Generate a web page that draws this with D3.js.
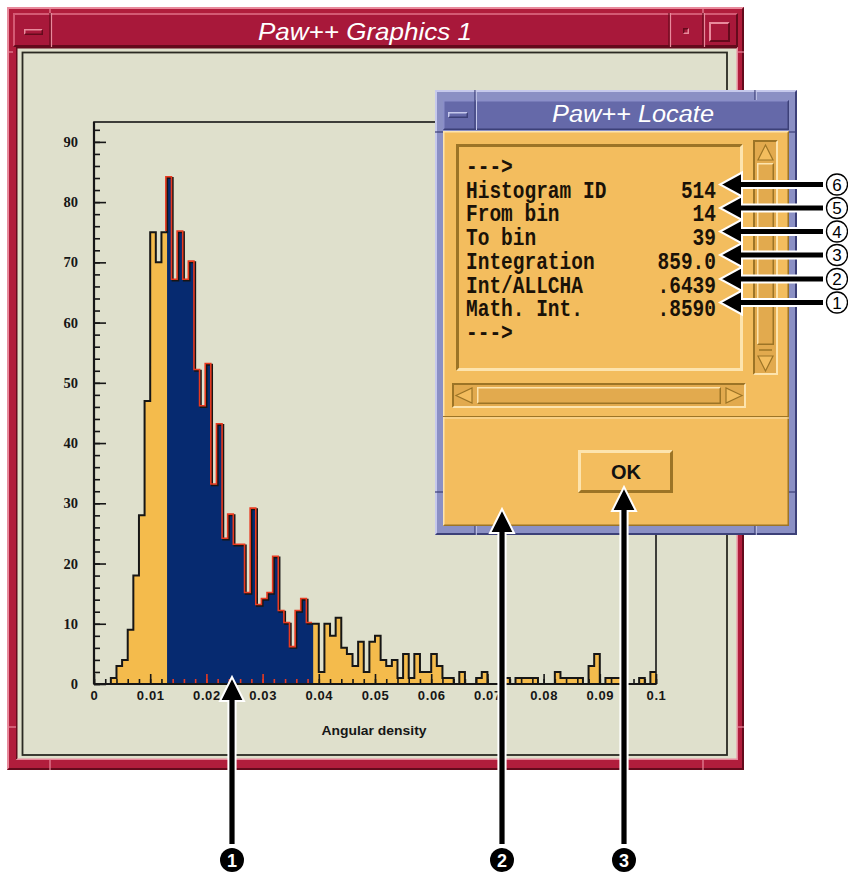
<!DOCTYPE html>
<html><head><meta charset="utf-8">
<script src="https://cdn.jsdelivr.net/npm/d3@7/dist/d3.min.js"></script>
<style>body{margin:0;background:#fff}svg{display:block}</style>
</head><body>
<svg id="c" width="848" height="873"></svg>
<script>
// ---------------- data ----------------
const counts = [
  0, 0, 0, 1, 3, 4, 9, 18, 28, 47,
  75, 70, 75, 84, 67, 75, 67, 70, 52, 46,
  53, 33, 43, 24, 28, 23, 23, 15, 29, 13,
  14, 15, 21, 12, 10, 6, 12, 14, 10, 10,
  2, 10, 8, 11, 6, 5, 3, 7, 2, 7,
  8, 4, 3, 4, 1, 5, 1, 5, 2, 2,
  5, 3, 1, 1, 0, 2, 0, 0, 1, 2,
  0, 0, 0, 1, 0, 1, 1, 1, 1, 0,
  0, 0, 2, 1, 1, 1, 1, 0, 3, 5,
  0, 1, 1, 1, 0, 0, 0, 1, 0, 2
];
const xMin = 0, xMax = 0.1, binWidth = 0.001;
const yTop = 93.3;
const selFromBin = 14, selToBin = 39;
const xMajorTicks = [0, 0.01, 0.02, 0.03, 0.04, 0.05, 0.06, 0.07, 0.08, 0.09, 0.1];
const xTickLabels = ["0", "0.01", "0.02", "0.03", "0.04", "0.05", "0.06", "0.07", "0.08", "0.09", "0.1"];
const xMinorTicks = d3.range(0, 51).map(i => i * 0.002);
const yMajorTicks = [0, 10, 20, 30, 40, 50, 60, 70, 80, 90];
const yMinorTicks = d3.range(0, 47).map(i => i * 2);
const xTitle = "Angular density";
const windowTitle = "Paw++ Graphics 1";
const dialogTitle = "Paw++ Locate";
const locatePrompt = "--->";
const locateNames = ["Histogram ID", "From bin", "To bin", "Integration", "Int/ALLCHA", "Math. Int."];
const locateValues = ["514", "14", "39", "859.0", ".6439", ".8590"];
const rightCallouts = ["6", "5", "4", "3", "2", "1"];
const bottomCallouts = ["1", "2", "3"];
const okLabel = "OK";

// ---------------- colours ----------------
const C = {
  canvas: "#dfe0cc", yellow: "#f4bb4c", navy: "#062a70", red: "#e83a20", ink: "#161616",
  wFrame: "#b11d3c", wTitle: "#a8183a", wLight: "#e88a9c", wDark: "#640a1c",
  dFrame: "#8b90c4", dTitle: "#6569a9", dLight: "#c6c9ec", dDark: "#3c4078",
  oBody: "#f3bd5e", oLight: "#fde4ae", oDark: "#9c7426", oTrough: "#e2aa4e"
};

const svg = d3.select("#c");

function bevel(g, x, y, w, h, tl, br, t) {
  g.append("path").attr("d", `M${x},${y}H${x+w}L${x+w-t},${y+t}H${x+t}V${y+h-t}L${x},${y+h}Z`).attr("fill", tl);
  g.append("path").attr("d", `M${x+w},${y}V${y+h}H${x}L${x+t},${y+h-t}H${x+w-t}V${y+t}Z`).attr("fill", br);
}
function vline(g, x, y1, y2, col, w) {
  g.append("line").attr("x1", x).attr("x2", x).attr("y1", y1).attr("y2", y2).attr("stroke", col).attr("stroke-width", w || 1);
}
function hline(g, y, x1, x2, col, w) {
  g.append("line").attr("x1", x1).attr("x2", x2).attr("y1", y).attr("y2", y).attr("stroke", col).attr("stroke-width", w || 1);
}

// ---------------- graphics window ----------------
const win = svg.append("g");
win.append("rect").attr("x", 7).attr("y", 7).attr("width", 737).attr("height", 763).attr("fill", C.wFrame);
bevel(win, 7, 7, 737, 763, C.wLight, C.wDark, 2);
win.append("rect").attr("x", 13).attr("y", 13).attr("width", 725).attr("height", 34).attr("fill", C.wTitle);
bevel(win, 13, 13, 725, 34, "#d45a74", C.wDark, 2);
[50, 669, 703].forEach(px => { vline(win, px, 13, 47, C.wDark, 1.2); vline(win, px + 1.5, 13, 47, C.wLight, 1.2); });
[50, 703].forEach(px => { vline(win, px, 7, 13, C.wLight, 1.2); vline(win, px, 760, 770, C.wLight, 1.2); });
hline(win, 52, 7, 13, C.wLight, 1.2); hline(win, 727, 7, 16, C.wLight, 1.2);
hline(win, 52, 738, 744, C.wLight, 1.2); hline(win, 727, 737, 744, C.wLight, 1.2);
bevel(win, 24, 29, 19, 6, C.wLight, C.wDark, 1.5);
bevel(win, 683, 28, 6, 6, C.wDark, C.wLight, 1.5);
bevel(win, 709, 22, 21, 20, C.wLight, C.wDark, 2);
win.append("text").attr("x", 365).attr("y", 40).attr("text-anchor", "middle")
  .attr("font-family", "Liberation Sans, Arial, sans-serif").attr("font-style", "italic")
  .attr("font-size", 24).attr("fill", "#fff").attr("textLength", 214).attr("lengthAdjust", "spacingAndGlyphs")
  .text(windowTitle);
win.append("rect").attr("x", 16).attr("y", 47).attr("width", 722).attr("height", 713).attr("fill", C.canvas);
bevel(win, 16, 47, 722, 713, C.wDark, C.wLight, 1.5);
win.append("rect").attr("x", 22.5).attr("y", 52.5).attr("width", 704.5).attr("height", 702.5)
  .attr("fill", C.canvas).attr("stroke", "#2a2a22").attr("stroke-width", 1.8);

// ---------------- histogram ----------------
const plot = svg.append("g");
const x = d3.scaleLinear().domain([xMin, xMax]).range([94, 656]);
const y = d3.scaleLinear().domain([0, yTop]).range([684, 122]);

const bins = counts.map((v, i) => ({ x0: xMin + i * binWidth, x1: xMin + (i + 1) * binWidth, v }));
const toPts = arr => arr.map(b => ({ x: b.x0, v: b.v })).concat([{ x: arr[arr.length - 1].x1, v: arr[arr.length - 1].v }]);
const allPts = toPts(bins);
const sel = bins.slice(selFromBin - 1, selToBin);
const selPts = toPts(sel);

const area = d3.area().x(d => x(d.x)).y0(y(0)).y1(d => y(d.v)).curve(d3.curveStepAfter);
const line = d3.line().x(d => x(d.x)).y(d => y(d.v)).curve(d3.curveStepAfter);

plot.append("path").attr("d", area(allPts)).attr("fill", C.yellow);
plot.append("path").attr("d", area(selPts)).attr("fill", C.navy);
plot.append("path").attr("d", line(allPts)).attr("fill", "none").attr("stroke", C.ink).attr("stroke-width", 2);
const redPts = [{ x: sel[0].x0, v: counts[selFromBin - 2] }].concat(selPts);
plot.append("path").attr("d", line(redPts)).attr("fill", "none").attr("stroke", C.red)
  .attr("stroke-width", 1.6).attr("transform", "translate(-1.2,-1.2)");

plot.append("rect").attr("x", x(xMin)).attr("y", y(yTop)).attr("width", x(xMax) - x(xMin)).attr("height", y(0) - y(yTop))
  .attr("fill", "none").attr("stroke", C.ink).attr("stroke-width", 1.6);

const inSel = d => d > sel[0].x0 - 1e-9 && d < sel[sel.length - 1].x1 + 1e-9 && d > 0.0125;
const tickFont = "Liberation Sans, Arial, sans-serif";

const gyMinor = plot.append("g").attr("transform", `translate(${x(xMin)},0)`)
  .call(d3.axisLeft(y).tickValues(yMinorTicks).tickSize(-6).tickFormat(""));
const gy = plot.append("g").attr("transform", `translate(${x(xMin)},0)`)
  .call(d3.axisLeft(y).tickValues(yMajorTicks).tickSize(-12).tickPadding(16).tickFormat(d3.format("d")));
[gy, gyMinor].forEach(g => { g.select(".domain").remove(); g.selectAll(".tick line").attr("stroke", C.ink).attr("stroke-width", 1.6); });
gy.selectAll("text").attr("font-family", "Liberation Serif, serif").attr("font-weight", "bold")
  .attr("font-size", 14.5).attr("fill", C.ink);

const gxMinor = plot.append("g").attr("transform", `translate(0,${y(0)})`)
  .call(d3.axisBottom(x).tickValues(xMinorTicks).tickSize(-5).tickFormat(""));
const gx = plot.append("g").attr("transform", `translate(0,${y(0)})`)
  .call(d3.axisBottom(x).tickValues(xMajorTicks).tickSize(-10).tickPadding(7).tickFormat((d, i) => xTickLabels[i]));
[gx, gxMinor].forEach(g => {
  g.select(".domain").remove();
  g.selectAll(".tick line").attr("stroke", d => inSel(d) ? C.red : C.ink).attr("stroke-width", 1.6);
});
gx.selectAll("text").attr("font-family", tickFont).attr("font-weight", "bold").attr("font-size", 13)
  .attr("letter-spacing", 0.6).attr("fill", C.ink);
plot.append("line").attr("x1", x(xMin)).attr("x2", x(xMin)).attr("y1", y(yTop)).attr("y2", y(0)).attr("stroke", C.ink).attr("stroke-width", 2.2);
plot.append("line").attr("x1", x(xMin)).attr("x2", x(xMax)).attr("y1", y(0)).attr("y2", y(0)).attr("stroke", C.ink).attr("stroke-width", 2.2);

plot.append("text").attr("x", (x.range()[0] + x.range()[1]) / 2 - 1).attr("y", 735).attr("text-anchor", "middle")
  .attr("font-family", tickFont).attr("font-weight", "bold").attr("font-size", 13.5)
  .attr("textLength", 105).attr("lengthAdjust", "spacingAndGlyphs").attr("fill", C.ink).text(xTitle);

// ---------------- locate dialog ----------------
const dlg = svg.append("g");
dlg.append("rect").attr("x", 435).attr("y", 90).attr("width", 362).attr("height", 445).attr("fill", C.dFrame);
bevel(dlg, 435, 90, 362, 445, C.dLight, C.dDark, 2);
[475, 755].forEach(px => { vline(dlg, px, 90, 100, C.dDark, 1.2); vline(dlg, px + 1.3, 90, 100, C.dLight, 1); vline(dlg, px, 526, 535, C.dDark, 1.2); vline(dlg, px + 1.3, 526, 535, C.dLight, 1); });
[132, 492].forEach(py => { hline(dlg, py, 435, 443, C.dDark, 1.2); hline(dlg, py, 789, 797, C.dDark, 1.2); });
dlg.append("rect").attr("x", 443).attr("y", 100).attr("width", 346).attr("height", 30).attr("fill", C.dTitle);
bevel(dlg, 443, 100, 346, 30, "#8a8ec8", C.dDark, 1.5);
vline(dlg, 475, 100, 130, C.dDark, 1.2); vline(dlg, 476.5, 100, 130, C.dLight, 1);
bevel(dlg, 448, 112, 20, 6, C.dLight, C.dDark, 1.5);
dlg.append("text").attr("x", 633).attr("y", 122).attr("text-anchor", "middle")
  .attr("font-family", "Liberation Sans, Arial, sans-serif").attr("font-style", "italic")
  .attr("font-size", 23).attr("fill", "#fff").attr("textLength", 162).attr("lengthAdjust", "spacingAndGlyphs")
  .text(dialogTitle);
dlg.append("rect").attr("x", 443).attr("y", 131).attr("width", 346).attr("height", 395).attr("fill", C.oBody);
bevel(dlg, 443, 131, 346, 395, C.oLight, C.oDark, 1.5);
bevel(dlg, 456, 144, 287, 227, C.oDark, C.oLight, 3);
dlg.append("rect").attr("x", 753).attr("y", 140).attr("width", 25).attr("height", 235).attr("fill", C.oTrough);
bevel(dlg, 753, 140, 25, 235, C.oDark, C.oLight, 2);
bevel(dlg, 757, 163, 17, 182, C.oLight, C.oDark, 1.5);
dlg.append("path").attr("d", "M765.5,145L758,160H773Z").attr("fill", C.oBody).attr("stroke", C.oDark).attr("stroke-width", 1.2);
dlg.append("path").attr("d", "M765.5,371L758,356H773Z").attr("fill", C.oBody).attr("stroke", C.oDark).attr("stroke-width", 1.2);
hline(dlg, 350, 759, 772, C.oDark, 1.5);
dlg.append("rect").attr("x", 452).attr("y", 383).attr("width", 294).attr("height", 25).attr("fill", C.oTrough);
bevel(dlg, 452, 383, 294, 25, C.oDark, C.oLight, 2);
bevel(dlg, 477, 387, 244, 17, C.oLight, C.oDark, 1.5);
dlg.append("path").attr("d", "M456,395.5L472,388V403Z").attr("fill", C.oBody).attr("stroke", C.oDark).attr("stroke-width", 1.2);
dlg.append("path").attr("d", "M742,395.5L726,388V403Z").attr("fill", C.oBody).attr("stroke", C.oDark).attr("stroke-width", 1.2);
hline(dlg, 416.5, 443, 789, C.oDark, 1.2);
hline(dlg, 418, 443, 789, C.oLight, 1.2);
bevel(dlg, 578, 450, 95, 43, C.oLight, C.oDark, 3);
dlg.append("text").attr("x", 626).attr("y", 479).attr("text-anchor", "middle")
  .attr("font-family", "Liberation Sans, Arial, sans-serif").attr("font-weight", "bold").attr("font-size", 20)
  .attr("fill", "#111").text(okLabel);
const rowY = i => 174 + i * 23.7;
const mono = "Liberation Mono, Courier New, monospace";
function monoText(tx, ty, s, anchor) {
  dlg.append("text").attr("transform", `translate(${tx},${ty}) scale(1,1.18)`).attr("text-anchor", anchor)
    .attr("font-family", mono).attr("font-size", 19.5).attr("font-weight", "bold").attr("fill", "#1a1208").text(s);
}
monoText(466, rowY(0), locatePrompt, "start");
locateNames.forEach((s, i) => {
  monoText(466, rowY(i + 1), s, "start");
  monoText(716, rowY(i + 1), locateValues[i], "end");
});
monoText(466, rowY(7), locatePrompt, "start");

// ---------------- annotation arrows ----------------
const ann = svg.append("g");
function vArrow(cx, tip, tail) {
  const hw = 12, sw = 3.6, hh = 24;
  ann.append("path").attr("d", `M${cx - sw},${tail}V${tip + hh}H${cx - hw}L${cx},${tip}L${cx + hw},${tip + hh}H${cx + sw}V${tail}Z`)
    .attr("fill", "#000").attr("stroke", "#fff").attr("stroke-width", 2).attr("stroke-linejoin", "miter");
}
function hArrow(cy, tip, tail) {
  const hh = 12, sw = 3.6, hl = 22;
  ann.append("path").attr("d", `M${tail},${cy - sw}H${tip + hl}V${cy - hh}L${tip},${cy}L${tip + hl},${cy + hh}V${cy + sw}H${tail}Z`)
    .attr("fill", "#000").attr("stroke", "#fff").attr("stroke-width", 2);
}
const bottomX = [232, 502, 624], bottomTip = [677, 509, 487];
bottomX.forEach((cx, i) => {
  vArrow(cx, bottomTip[i], 845);
  ann.append("circle").attr("cx", cx).attr("cy", 860).attr("r", 12).attr("fill", "#000");
  ann.append("text").attr("x", cx).attr("y", 866.5).attr("text-anchor", "middle").attr("font-family", "Liberation Sans, Arial, sans-serif")
    .attr("font-weight", "bold").attr("font-size", 18).attr("fill", "#fff").text(bottomCallouts[i]);
});
const rightY = [184.5, 208, 231.5, 255, 279, 302.5];
rightY.slice().reverse().forEach(cy => hArrow(cy, 720, 824));
rightY.forEach((cy, i) => {
  ann.append("circle").attr("cx", 837).attr("cy", cy).attr("r", 10.5).attr("fill", "#fff").attr("stroke", "#000").attr("stroke-width", 1.3);
  ann.append("text").attr("x", 837).attr("y", cy + 6.3).attr("text-anchor", "middle").attr("font-family", "Liberation Sans, Arial, sans-serif")
    .attr("font-size", 17).attr("fill", "#000").text(rightCallouts[i]);
});
</script>
</body></html>
